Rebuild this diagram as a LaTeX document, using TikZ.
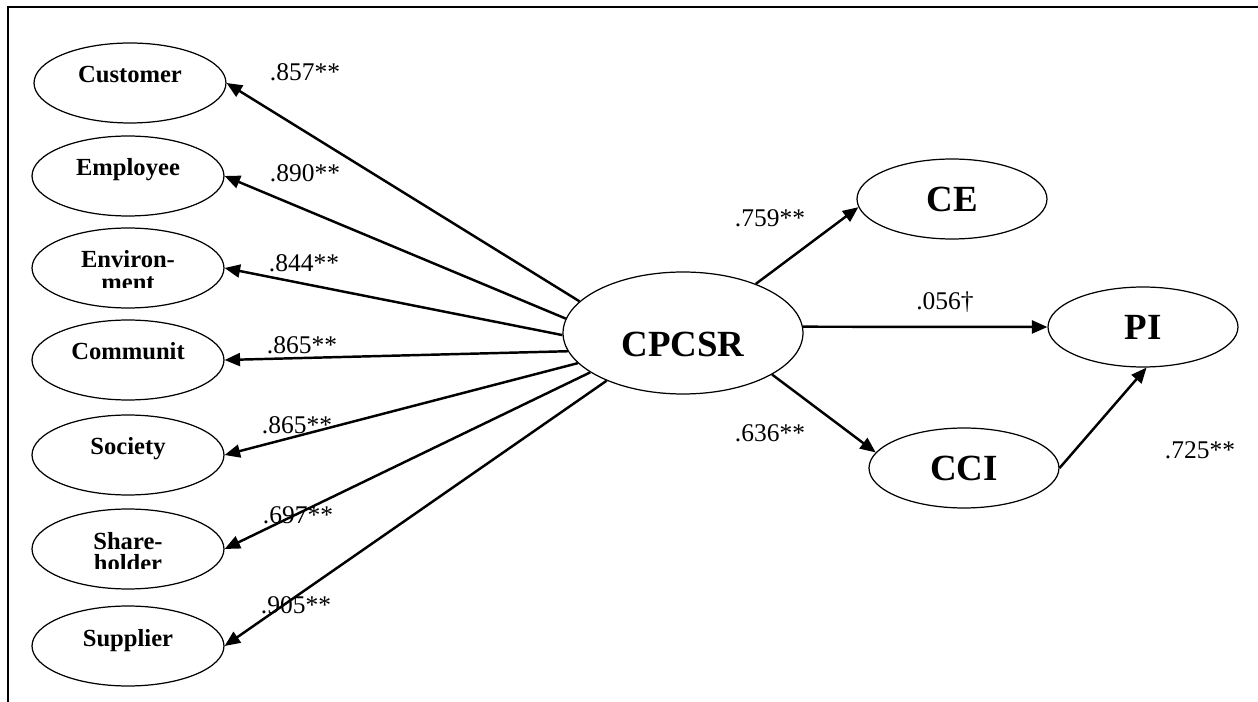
\documentclass[tikz,border=0pt]{standalone}
\usepackage{fontspec}
\setmainfont{Liberation Serif}
\usetikzlibrary{arrows.meta,shapes.geometric}

\begin{document}
\begin{tikzpicture}[x=0.02cm,y=-0.02cm,
  factor/.style={draw,ellipse,line width=0.7pt,minimum width=3.84cm,minimum height=1.6cm,inner sep=0pt,text height=0.3cm,text depth=0.3cm,font=\fontsize{14}{16}\selectfont\bfseries},
  cutline/.style={anchor=base,inner sep=0pt,font=\fontsize{14}{16}\selectfont\bfseries},
  construct/.style={draw,ellipse,line width=0.7pt,minimum width=3.8cm,minimum height=1.6cm,inner sep=0pt,font=\fontsize{21}{24}\selectfont\bfseries},
  coef/.style={inner sep=0pt,font=\fontsize{14.5}{17}\selectfont},
  arr/.style={-{Triangle[length=3.1mm,width=2.6mm]},line width=1.4pt},
  frame/.style={line width=1.2pt}
]
\useasboundingbox (0,0) rectangle (1258,702);
\draw[frame] (8,702) -- (8,7) -- (1258,7);

% stakeholder factors
\node[factor] (customer) at (130,83) {Customer};
\node[factor] (employee) at (128,176) {Employee};
\node[factor] (environment) at (128,268) {Environ-};
\node[factor] (community) at (128,360) {Communit};
\node[factor] (society) at (128,455) {Society};
\node[factor] (shareholder) at (128,549) {Share-};
\node[factor] (supplier) at (128,646) {Supplier};

% second lines, cut off at the bottom
\begin{scope}
  \clip (40,272) rectangle (216,288);
  \node[cutline] (environmentB) at (128,291) {ment};
\end{scope}
\begin{scope}
  \clip (40,553) rectangle (216,568);
  \node[cutline] (shareholderB) at (128,571) {holder};
\end{scope}

% constructs
\node[construct,minimum width=4.8cm,minimum height=2.44cm,text height=0.93cm,text depth=0pt] (cpcsr) at (683,333) {CPCSR};
\node[construct] (ce) at (952,199) {CE};
\node[construct] (pi) at (1143,327) {PI};
\node[construct] (cci) at (964,468) {CCI};

\draw[arr] (cpcsr.163) -- (customer.east);
\draw[arr] (cpcsr.173) -- (employee.east);
\draw[arr] (cpcsr.181) -- (environment.east);
\draw[arr] (cpcsr.189) -- (community.east);
\draw[arr] (cpcsr.196) -- (society.east);
\draw[arr] (cpcsr.203) -- (shareholder.east);
\draw[arr] (cpcsr.212) -- (supplier.east);
\draw[arr] (cpcsr.34) -- (ce.185);
\draw[arr] (cpcsr.3) -- (pi.west);
\draw[arr] (cpcsr.335) -- (cci.170);
\draw[arr] (cci.east) -- (pi.275);

% loadings and paths
\node[coef] (wCustomer) at (305,72) {.857**};
\node[coef] (wEmployee) at (305,173) {.890**};
\node[coef] (wEnvironment) at (304,263) {.844**};
\node[coef] (wCommunity) at (302,345) {.865**};
\node[coef] (wSociety) at (297,425) {.865**};
\node[coef] (wShareholder) at (298,515) {.697**};
\node[coef] (wSupplier) at (296,605) {.905**};
\node[coef] (wCE) at (770,218) {.759**};
\node[coef] (wPI) at (945,302) {.056†};
\node[coef] (wCCI) at (770,433) {.636**};
\node[coef] (wCCIPI) at (1200,450) {.725**};
\end{tikzpicture}
\end{document}
